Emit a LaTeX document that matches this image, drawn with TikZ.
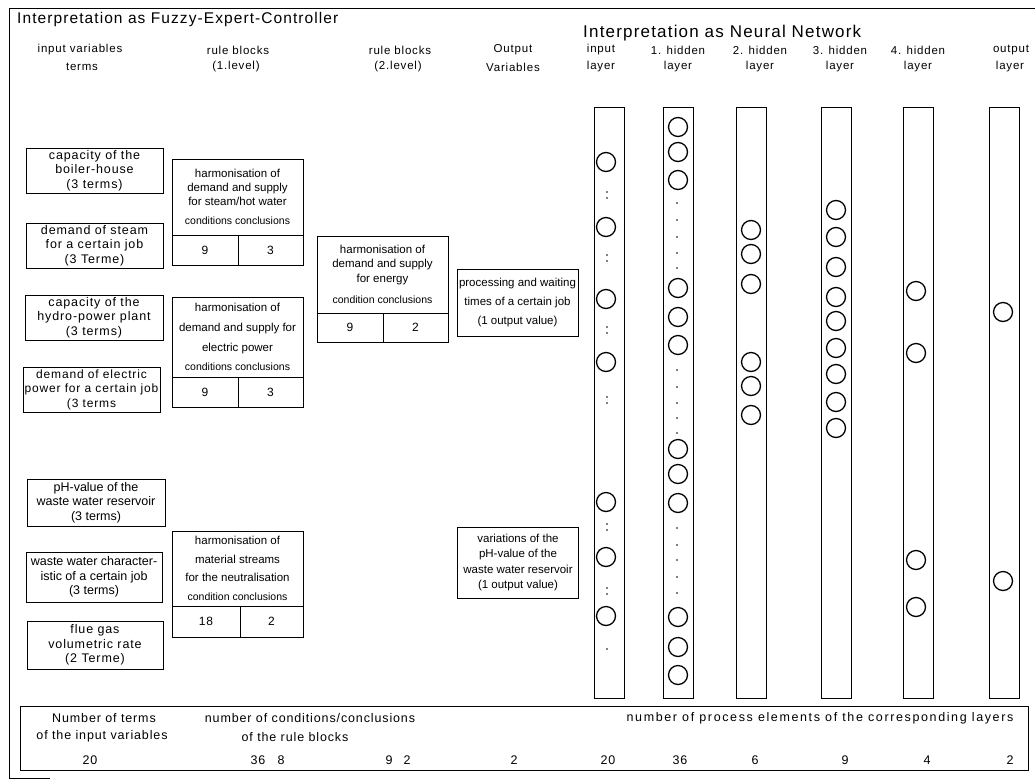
\documentclass[tikz,border=0pt]{standalone}
\usepackage{fontspec}
\setmainfont{Liberation Sans}
\newfontfamily\wide{Liberation Sans}[LetterSpace=7]
\newfontfamily\wider{Liberation Sans}[LetterSpace=13]
\begin{document}
\begin{tikzpicture}[x=1pt,y=-1pt,
  thin line/.style={line width=0.8pt},
  box/.style={draw, thin line, inner sep=0pt, align=center},
  termbox/.style={box, minimum width=137pt, minimum height=45pt, font=\wide\fontsize{12.5}{14.5}\selectfont},
  tightterm/.style={font=\fontsize{12.5}{14.5}\selectfont},
  rulehead/.style={box, minimum width=131pt},
  headfont/.style={font=\fontsize{11.5}{#1}\selectfont},
  cell/.style={box, minimum height=30pt, font=\wide\fontsize{12}{13}\selectfont},
  outbox/.style={box, minimum width=121pt, font=\fontsize{11.5}{#1}\selectfont},
  title/.style={anchor=west, inner sep=0pt, font=\wide\fontsize{#1}{20}\selectfont},
  colhead/.style={inner sep=0pt, font=\wide\fontsize{11.5}{13}\selectfont},
  layercol/.style={draw, thin line, minimum width=30pt, minimum height=591pt, inner sep=0pt},
  neuron/.style={draw, circle, line width=1.3pt, minimum size=19pt, inner sep=0pt},
  gapdot/.style={fill, circle, minimum size=1.6pt, inner sep=0pt},
  sumtext/.style={inner sep=0pt, font=\wide\fontsize{12.5}{14}\selectfont},
  sumwide/.style={inner sep=0pt, font=\wider\fontsize{12.5}{14}\selectfont}
]
\useasboundingbox (0,0) rectangle (1035,782);

% outer frame
\draw[thin line] (50,778) -- (9,778) -- (9,8) -- (1035,8);

% titles
\node[title=15.5] (tfuzzy) at (17,19) {Interpretation as Fuzzy-Expert-Controller};
\node[title=17] (tneural) at (583,33) {Interpretation as Neural Network};

% column headings
\node[colhead] (h1a) at (80,50) {input variables};
\node[colhead] (h1b) at (82,67) {terms};
\node[colhead] (h2a) at (238,50) {rule blocks};
\node[colhead] (h2b) at (236,67) {(1.level)};
\node[colhead] (h3a) at (400,50) {rule blocks};
\node[colhead] (h3b) at (398,67) {(2.level)};
\node[colhead] (h4a) at (513,50) {Output};
\node[colhead] (h4b) at (513,67) {Variables};
\node[colhead] (n0a) at (601,50) {input};
\node[colhead] (n0b) at (601,67) {layer};
\node[colhead] (n1a) at (678,50) {1. hidden};
\node[colhead] (n1b) at (678,67) {layer};
\node[colhead] (n2a) at (760,50) {2. hidden};
\node[colhead] (n2b) at (760,67) {layer};
\node[colhead] (n3a) at (840,50) {3. hidden};
\node[colhead] (n3b) at (840,67) {layer};
\node[colhead] (n4a) at (918,50) {4. hidden};
\node[colhead] (n4b) at (918,67) {layer};
\node[colhead] (n5a) at (1011,50) {output};
\node[colhead] (n5b) at (1010,67) {layer};

% input variables
\node[termbox] (t1) at (94.5,170.5) {capacity of the\\boiler-house\\(3 terms)};
\node[termbox] (t2) at (94.5,245.5) {demand of steam\\for a certain job\\(3 Terme)};
\node[termbox, minimum width=138pt] (t3) at (94,317.5) {capacity of the\\hydro-power plant\\(3 terms)};
\node[termbox, font=\wide\fontsize{12}{14.5}\selectfont] (t4) at (91.5,389.5) {demand of electric\\power for a certain job\\(3 terms};
\node[termbox, tightterm, minimum width=138pt, minimum height=47pt] (t5) at (96,502.5) {pH-value of the\\waste water reservoir\\(3 terms)};
\node[termbox, tightterm, minimum width=136pt, minimum height=50pt] (t6) at (94,577) {waste water character-\\istic of a certain job\\(3 terms)};
\node[termbox, minimum width=136pt, minimum height=48pt] (t7) at (95,645) {flue gas\\volumetric rate\\(2 Terme)};

% rule blocks, first level
\node[rulehead, minimum height=76pt, headfont=14] (r1) at (237.5,197)
  {harmonisation of\\demand and supply\\for steam/hot water\\[5pt]{\fontsize{10.5}{12}\selectfont conditions conclusions}};
\node[cell, minimum width=66pt] (r1c) at (205,250) {9};
\node[cell, minimum width=65pt] (r1k) at (270.5,250) {3};

\node[rulehead, minimum height=80pt, headfont=20] (r2) at (237.5,337)
  {harmonisation of\\demand and supply for\\electric power\\[-1pt]{\fontsize{10.5}{12}\selectfont conditions conclusions}};
\node[cell, minimum width=66pt] (r2c) at (205,392) {9};
\node[cell, minimum width=65pt] (r2k) at (270.5,392) {3};

\node[rulehead, minimum height=75pt, headfont=18.5] (r3) at (237.5,568.5)
  {harmonisation of\\material streams\\for the neutralisation\\[0pt]{\fontsize{10.5}{12}\selectfont condition conclusions}};
\node[cell, minimum width=68pt, minimum height=31pt] (r3c) at (206,621.5) {18};
\node[cell, minimum width=63pt, minimum height=31pt] (r3k) at (271.5,621.5) {2};

% rule block, second level
\node[rulehead, minimum height=77pt, headfont=14.5] (s1) at (382.5,274.5)
  {harmonisation of\\demand and supply\\for energy\\[7pt]{\fontsize{10.5}{12}\selectfont condition conclusions}};
\node[cell, minimum width=66pt, minimum height=29pt] (s1c) at (350,327.5) {9};
\node[cell, minimum width=65pt, minimum height=29pt] (s1k) at (415.5,327.5) {2};

% output variables
\node[outbox=19, minimum height=67pt] (o1) at (517.5,302.5)
  {processing and waiting\\times of a certain job\\(1 output value)};
\node[outbox=15.3, minimum height=71pt] (o2) at (518,562.5)
  {variations of the\\pH-value of the\\waste water reservoir\\(1 output value)};

% layers of the network
\node[layercol] (L0) at (609,402.5) {};
\node[layercol] (L1) at (678,402.5) {};
\node[layercol] (L2) at (751,402.5) {};
\node[layercol] (L3) at (836,402.5) {};
\node[layercol] (L4) at (918.5,402.5) {};
\node[layercol] (L5) at (1004.5,402.5) {};

\foreach \y [count=\i] in {162,227,299,362,502,557,616}
  \node[neuron] (p0-\i) at (606,\y) {};
\foreach \y [count=\i] in {192,198,255,261,327,333,397,403,524,530,588,594,649}
  \node[gapdot] (d0-\i) at (607,\y) {};

\foreach \y [count=\i] in {127,152,180,288,317,345,449,474,503,617,647,675}
  \node[neuron] (p1-\i) at (678,\y) {};
\foreach \y [count=\i] in {203,220,237,253,268,370,387,403,418,433,528,545,560,577,593}
  \node[gapdot] (d1-\i) at (677,\y) {};

\foreach \y [count=\i] in {230,254,284,362,386,415}
  \node[neuron] (p2-\i) at (751,\y) {};
\foreach \y [count=\i] in {210,237,267,297,321,348,374,402,428}
  \node[neuron] (p3-\i) at (836,\y) {};
\foreach \y [count=\i] in {291,353,560,607}
  \node[neuron] (p4-\i) at (916,\y) {};
\foreach \y [count=\i] in {312,581}
  \node[neuron] (p5-\i) at (1003,\y) {};

% summary row
\node[draw, thin line, minimum width=1008pt, minimum height=64pt, inner sep=0pt] (sum) at (524,738) {};
\node[sumtext] (s-a1) at (104,718) {Number of terms};
\node[sumtext] (s-a2) at (102,736) {of the input variables};
\node[sumtext] (s-b1) at (310,718) {number of conditions/conclusions};
\node[sumtext] (s-b2) at (295,737) {of the rule blocks};
\node[sumwide] (s-c1) at (820,718) {number of process elements of the corresponding layers};
\foreach \x/\v [count=\i] in {90/20,258/36,281/8,389/9,407/2,514/2,608/20,680/36,755/6,845/9,927/4,1010/2}
  \node[sumtext] (v-\i) at (\x,760) {\v};
\end{tikzpicture}
\end{document}
